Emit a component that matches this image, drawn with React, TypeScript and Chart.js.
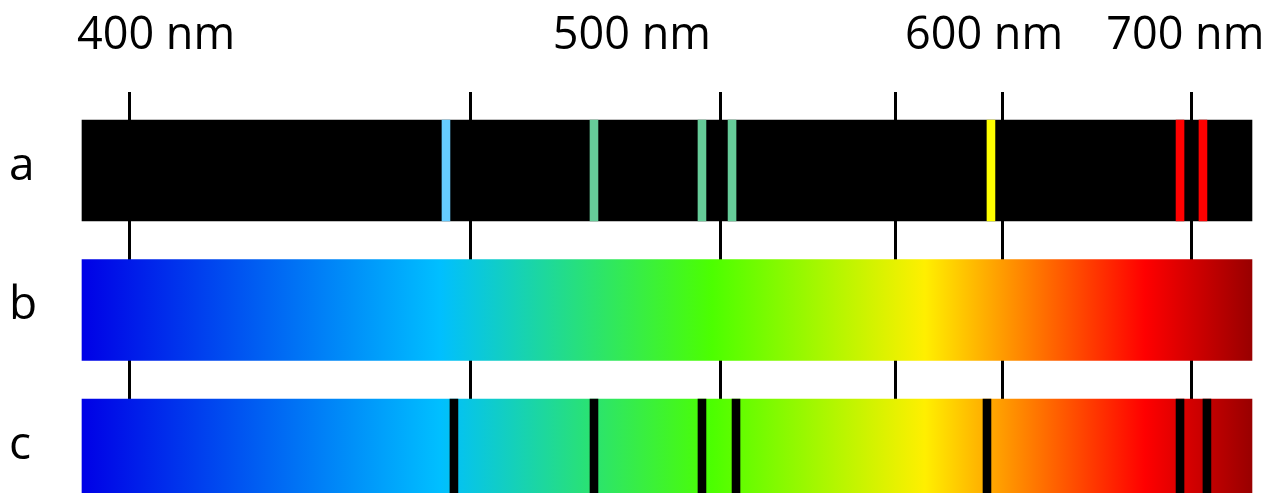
import { useEffect, useRef } from 'react';
import { Chart, registerables } from 'chart.js';

Chart.register(...registerables);

// Rows (top to bottom): a = emission lines, b = continuous spectrum, c = absorption lines
const ROW_LABELS = ['a', 'b', 'c'];
const ROW_INDEX = [0, 1, 2];

// Horizontal axis in relative position units (0 = left edge of the spectrum, 100 = right edge)
const AXIS_LABELS = ['400 nm', '500 nm', '600 nm', '700 nm'];
const AXIS_LABEL_POS = [6.33, 47.0, 77.1, 94.3];
const TICK_POS = [4.06, 33.21, 54.57, 69.49, 78.68, 94.83];

const EMISSION_POS = [31.11, 43.76, 52.99, 55.56, 77.69, 93.85, 95.81];
const EMISSION_COLORS = ['#66ccff', '#66cc99', '#66cc99', '#66cc99', '#ffff00', '#ff0000', '#ff0000'];
const ABSORPTION_POS = [31.79, 43.76, 52.99, 55.9, 77.35, 93.85, 96.15];
const LINE_W = 0.68;

const SPECTRUM_STOPS = [0, 30.6, 53.85, 72.05, 90.85, 100];
const SPECTRUM_COLORS = ['#0000e6', '#00bfff', '#4cff00', '#ffef00', '#ff0000', '#990000'];

export default function App() {
  const ref = useRef<HTMLCanvasElement>(null);

  useEffect(() => {
    const canvas = ref.current;
    if (!canvas) return;
    const X_MIN = -1.88;
    const X_MAX = 101.54;
    const Y_MIN = -0.5627;
    const Y_MAX = 2.3083;
    const first = SPECTRUM_STOPS[0];
    const last = SPECTRUM_STOPS[SPECTRUM_STOPS.length - 1];

    const spectrum = (ctx: any) => {
      const chart = ctx.chart;
      const xs = chart.scales && chart.scales.x;
      if (!chart.chartArea || !xs) return '#000';
      const g = chart.ctx.createLinearGradient(xs.getPixelForValue(first), 0, xs.getPixelForValue(last), 0);
      SPECTRUM_STOPS.forEach((s, i) => g.addColorStop((s - first) / (last - first), SPECTRUM_COLORS[i]));
      return g;
    };

    const barCommon = { grouped: false, barThickness: 101, borderWidth: 0, clip: false };

    const chart = new Chart(canvas, {
      type: 'bar',
      data: {
        datasets: [
          {
            label: 'emission',
            data: EMISSION_POS.map((p) => ({ x: [p - LINE_W / 2, p + LINE_W / 2], y: ROW_INDEX[0] })),
            backgroundColor: EMISSION_COLORS,
            order: 1,
            ...barCommon,
          },
          {
            label: 'absorption',
            data: ABSORPTION_POS.map((p) => ({ x: [p - LINE_W / 2, p + LINE_W / 2], y: ROW_INDEX[2] })),
            backgroundColor: '#000000',
            order: 1,
            ...barCommon,
          },
          {
            label: 'rows',
            data: ROW_INDEX.map((r) => ({ x: [first, last], y: r })),
            backgroundColor: (ctx: any) => (ctx.dataIndex === 0 ? '#000000' : spectrum(ctx)),
            order: 2,
            ...barCommon,
          },
        ] as any,
      },
      options: {
        indexAxis: 'y',
        animation: false,
        responsive: false,
        devicePixelRatio: 1,
        layout: { padding: { left: 9, right: 0, top: 0, bottom: 0 }, autoPadding: false } as any,
        plugins: { legend: { display: false }, tooltip: { enabled: false } },
        scales: {
          x: {
            type: 'linear',
            position: 'bottom',
            offset: false,
            min: X_MIN,
            max: X_MAX,
            grid: { color: '#000000', lineWidth: 3, drawTicks: false, offset: false },
            border: { display: false },
            ticks: { display: false },
            afterBuildTicks: (s: any) => {
              s.ticks = TICK_POS.map((v) => ({ value: v }));
            },
            afterFit: (s: any) => {
              s.height = 0;
            },
          },
          x2: {
            type: 'linear',
            position: 'top',
            offset: false,
            min: X_MIN,
            max: X_MAX,
            grid: { display: false, drawTicks: false, offset: false },
            border: { display: false },
            ticks: {
              autoSkip: false,
              maxRotation: 0,
              minRotation: 0,
              padding: 0,
              color: '#000000',
              font: { family: "'Open Sans', 'Noto Sans', sans-serif", size: 45, lineHeight: '112px' },
              callback: (_v: any, i: number) => AXIS_LABELS[i],
            },
            afterBuildTicks: (s: any) => {
              s.ticks = AXIS_LABEL_POS.map((v) => ({ value: v }));
            },
            afterFit: (s: any) => {
              s.height = 92;
            },
          },
          y: {
            type: 'linear',
            position: 'left',
            offset: false,
            reverse: true,
            min: Y_MIN,
            max: Y_MAX,
            grid: { display: false, drawTicks: false, offset: false },
            border: { display: false },
            ticks: {
              autoSkip: false,
              crossAlign: 'far',
              labelOffset: -4,
              padding: 0,
              color: '#000000',
              font: { family: "'Open Sans', 'Noto Sans', sans-serif", size: 46, lineHeight: '1px' },
              callback: (_v: any, i: number) => ROW_LABELS[i],
            },
            afterBuildTicks: (s: any) => {
              s.ticks = ROW_INDEX.map((v) => ({ value: v }));
            },
            afterFit: (s: any) => {
              s.width = 51;
            },
          },
        } as any,
      },
    });
    return () => chart.destroy();
  }, []);

  return (
    <div style={{ position: 'fixed', left: 0, top: 0, width: 1270, height: 493, background: '#ffffff' }}>
      <canvas ref={ref} width={1270} height={493} style={{ display: 'block' }} />
    </div>
  );
}
